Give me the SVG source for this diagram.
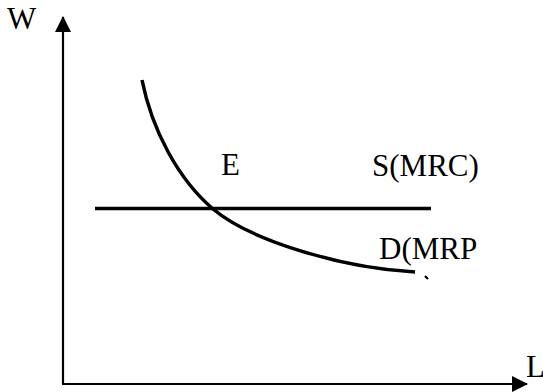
<svg xmlns="http://www.w3.org/2000/svg" width="543" height="392" viewBox="0 0 543 392">
<style>
text{font-family:"Liberation Serif","Times New Roman",serif;font-size:31px;fill:#000}
.ax{stroke:#000;stroke-width:2.2;fill:none}
.ln{stroke:#000;stroke-width:3.5;fill:none}
</style>
<defs>
<marker id="ah" markerWidth="16" markerHeight="16" viewBox="0 0 16 16" refX="15" refY="8" orient="auto" markerUnits="userSpaceOnUse">
<path d="M0,0 L16,8 L0,16 Z" fill="#000"/>
</marker>
</defs>
<rect width="543" height="392" fill="#fff"/>
<g id="connectors">
<path id="yaxis" class="ax" d="M63,384 L63,17" marker-end="url(#ah)"/>
<path id="xaxis" class="ax" d="M62,384 L527,384" marker-end="url(#ah)"/>
<path id="supply" class="ln" d="M95,208.5 L431,208.5"/>
<path id="demand" class="ln" stroke-width="3" d="M142,80 C152,130 178,179 213,209 C250,240 340,268 415,272"/>
<path class="ax" stroke="#888" stroke-width="1" d="M425,276 L428,279"/>
</g>
<g id="label-W"><text x="7" y="29">W</text></g>
<g id="label-L"><text x="526" y="377">L</text></g>
<g id="label-E"><text x="221" y="175">E</text></g>
<g id="label-S"><text x="372" y="176">S(MRC)</text></g>
<g id="label-D"><text x="379" y="259">D(MRP</text></g>
</svg>
